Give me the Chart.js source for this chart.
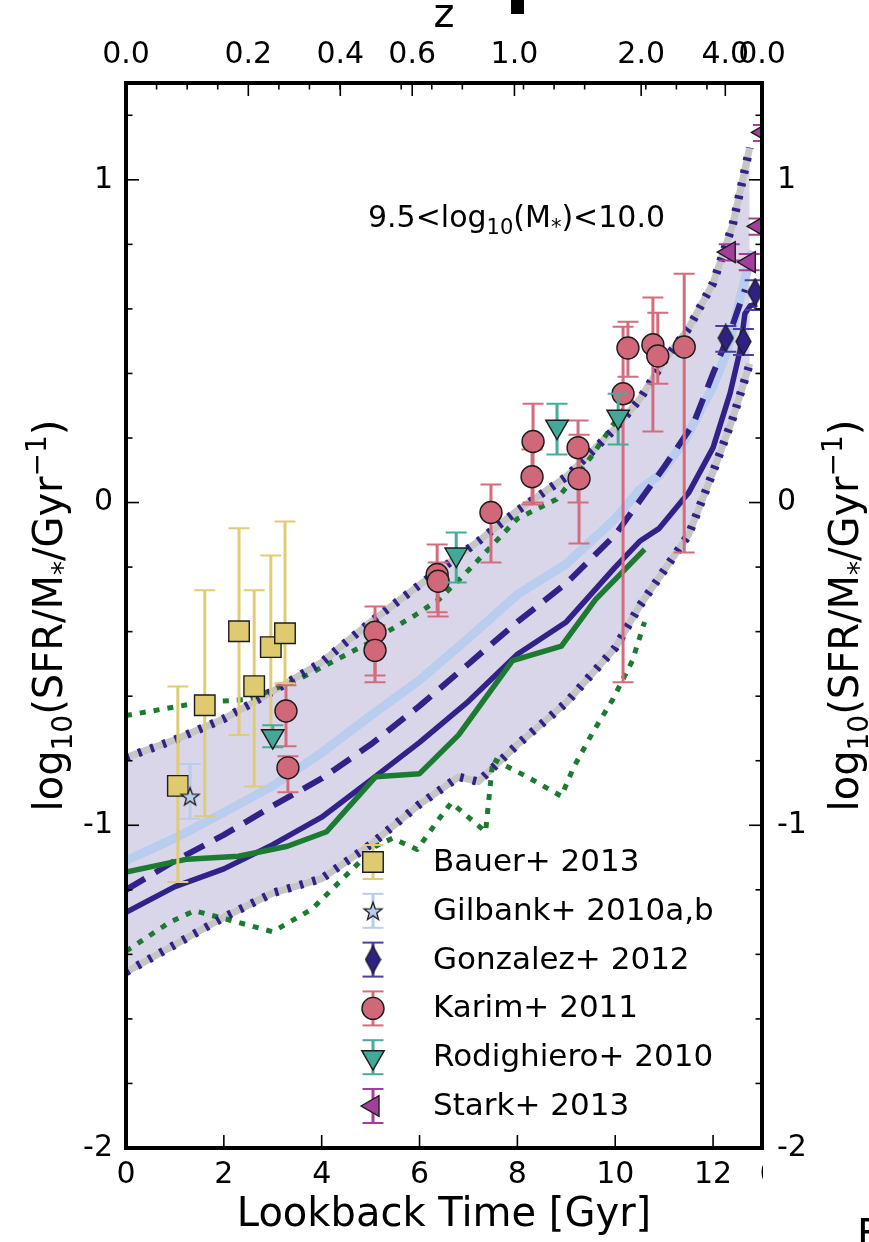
<!DOCTYPE html>
<html lang="en">
<head>
<meta charset="UTF-8" />
<title>sSFR vs lookback time</title>
<script src="https://cdn.jsdelivr.net/npm/chart.js@4"></script>
<style>
  body { margin: 0; background: #fff; }
  #wrap { width: 869px; height: 1242px; }
</style>
</head>
<body>
<div id="wrap"><canvas id="ssfr" width="869" height="1242"></canvas></div>
<script>
// ---- axes ----
const xMax = 13.0;
const yMin = -2, yMax = 1.3;
// redshift labels on the top axis and the lookback times (Gyr) where they sit
const zTickLabels = ['0.0', '0.2', '0.4', '0.6', '1.0', '2.0', '4.0', '0.0'];
const zTickTimes  = [0, 2.5, 4.38, 5.85, 7.94, 10.53, 12.25, 13.0];

// ---- model: 16-84 percentile band ----
const bandTime  = [0, 1, 2, 3, 4, 5, 6, 6.8, 7.2, 8, 9, 10, 10.5, 11, 11.5, 12, 12.4, 12.75];
const bandUpper = [-0.79, -0.735, -0.67, -0.585, -0.495, -0.37, -0.255, -0.165, -0.12, -0.025, 0.08, 0.23, 0.32, 0.44, 0.54, 0.68, 0.86, 1.1];
const bandLower = [-1.455, -1.37, -1.285, -1.21, -1.165, -1.06, -0.935, -0.85, -0.865, -0.75, -0.62, -0.45, -0.32, -0.21, -0.1, 0.095, 0.26, 0.43];

// ---- model: mean (light blue), median (dashed), main sequence (solid) ----
const meanTime   = [0, 1, 2, 3, 4, 5, 6, 7, 8, 9, 10, 10.5, 10.9, 11.4, 12, 12.3, 12.58, 12.8];
const meanValues = [-1.11, -1.04, -0.96, -0.878, -0.775, -0.66, -0.55, -0.42, -0.285, -0.19, -0.05, 0.04, 0.085, 0.186, 0.36, 0.474, 0.65, 0.78];
const dashTime   = [0, 1, 2, 3, 4, 5, 6, 7, 8, 9, 10, 11, 11.6, 12, 12.4, 12.65];
const dashValues = [-1.2, -1.11, -1.03, -0.94, -0.855, -0.75, -0.63, -0.5, -0.37, -0.25, -0.1, 0.11, 0.245, 0.4, 0.55, 0.66];
const solidTime   = [0, 1, 2, 3, 4, 5, 6, 7, 8, 9, 10, 10.5, 10.9, 11.5, 12, 12.35, 12.55, 12.65, 12.76, 12.9];
const solidValues = [-1.27, -1.19, -1.135, -1.06, -0.975, -0.86, -0.743, -0.616, -0.47, -0.37, -0.2, -0.12, -0.08, 0.03, 0.17, 0.34, 0.47, 0.585, 0.61, 0.615];

// ---- comparison model (green): median and percentiles ----
const greenTime   = [0, 1.25, 2.3, 3.3, 4.1, 5.1, 6.0, 6.8, 7.9, 8.9, 9.6, 10.6];
const greenValues = [-1.145, -1.105, -1.096, -1.065, -1.02, -0.85, -0.84, -0.72, -0.49, -0.445, -0.3, -0.145];
const greenHiTime   = [0, 1.5, 2.5, 3.5, 4.9, 5.9, 6.4, 7.0, 8.0, 8.8, 9.5, 10.4];
const greenHiValues = [-0.66, -0.62, -0.61, -0.55, -0.44, -0.35, -0.3, -0.21, -0.05, 0.01, 0.14, 0.34];
const greenLoTime   = [0, 0.5, 0.9, 1.4, 2.2, 3.0, 3.8, 4.6, 5.1, 5.45, 5.95, 6.4, 6.65, 7.35, 7.5, 8.2, 8.9, 9.15, 9.55, 9.95, 10.35, 10.6];
const greenLoValues = [-1.39, -1.34, -1.3, -1.265, -1.297, -1.33, -1.26, -1.14, -1.065, -1.04, -1.075, -0.98, -0.93, -1.02, -0.795, -0.85, -0.91, -0.82, -0.71, -0.61, -0.49, -0.37];

// ---- observations ----
const bauerTime  = [1.06, 1.61, 2.31, 2.62, 2.96, 3.25];
const bauerValue = [-0.878, -0.628, -0.399, -0.569, -0.448, -0.405];
const bauerHigh  = [-0.57, -0.272, -0.08, -0.272, -0.164, -0.059];
const bauerLow   = [-1.176, -0.972, -0.72, -0.88, -0.71, -0.56];

const gilbankTime  = [1.31];
const gilbankValue = [-0.91];
const gilbankHigh  = [-0.81];
const gilbankLow   = [-0.98];

const gonzalezTime  = [12.26, 12.62, 12.86];
const gonzalezValue = [0.51, 0.499, 0.652];
const gonzalezHigh  = [0.547, 0.538, 0.689];
const gonzalezLow   = [0.467, 0.457, 0.597];

const karimTime  = [3.27, 3.31, 5.09, 5.09, 6.36, 6.38, 7.46, 8.32, 8.30, 9.24, 9.26, 10.16, 10.26, 10.77, 10.87, 11.41];
const karimValue = [-0.646, -0.822, -0.402, -0.458, -0.223, -0.244, -0.031, 0.189, 0.08, 0.17, 0.074, 0.337, 0.479, 0.489, 0.454, 0.482];
const karimHigh  = [-0.566, -0.786, -0.322, -0.38, -0.13, -0.186, 0.056, 0.306, 0.164, 0.254, 0.21, 0.545, 0.56, 0.635, 0.588, 0.709];
const karimLow   = [-0.755, -0.898, -0.536, -0.557, -0.34, -0.353, -0.186, 0.0, -0.006, 0.0, -0.127, -0.557, 0.39, 0.22, 0.368, -0.155];

const rodTime  = [3.0, 6.75, 8.81, 10.06];
const rodValue = [-0.724, -0.161, 0.235, 0.266];
const rodHigh  = [-0.69, -0.093, 0.306, 0.337];
const rodLow   = [-0.758, -0.248, 0.149, 0.18];

const starkTime  = [12.33, 12.74, 12.94, 13.03];
const starkValue = [0.776, 0.745, 0.856, 1.147];
const starkHigh  = [0.80, 0.77, 0.88, 1.17];
const starkLow   = [0.75, 0.72, 0.83, 1.12];

// ---- colours ----
const navy = '#302289';
const green = '#1d7a31';
const skyBlue = '#b9cdee';
const lavender = '#d9d6e9';
const halo = '#c6c6c6';
const FONT = 'DejaVu Sans';

const pts = (xs, ys) => xs.map((x, i) => ({x, y: ys[i]}));

function lineSet(label, xs, ys, style) {
  return Object.assign({
    label, data: pts(xs, ys), showLine: true, pointRadius: 0,
    fill: false, clip: 0, tension: 0, borderCapStyle: 'butt', borderJoinStyle: 'round'
  }, style);
}

function markSet(label, xs, ys, hi, lo, style) {
  return Object.assign({
    label, data: pts(xs, ys), showLine: false, clip: 0,
    errHigh: hi, errLow: lo,
    pointBorderColor: '#1c1c1c', pointBorderWidth: 1.4
  }, style);
}

// small canvases for the star and thin-diamond markers
function markerCanvas(w, h, path, fill) {
  const c = document.createElement('canvas');
  c.width = w; c.height = h;
  const g = c.getContext('2d');
  g.beginPath();
  path(g, w, h);
  g.closePath();
  g.fillStyle = fill;
  g.fill();
  g.lineWidth = 1.3;
  g.strokeStyle = '#1c1c1c';
  g.stroke();
  return c;
}

const starImg = markerCanvas(22, 22, (g, w, h) => {
  const cx = w / 2, cy = h / 2 + 1, ro = 9.5, ri = 3.9;
  for (let i = 0; i < 10; i++) {
    const r = i % 2 ? ri : ro;
    const a = -Math.PI / 2 + i * Math.PI / 5;
    g.lineTo(cx + r * Math.cos(a), cy + r * Math.sin(a));
  }
}, skyBlue);

const diamondImg = markerCanvas(17, 29, (g, w, h) => {
  g.moveTo(w / 2, 1);
  g.lineTo(w - 1, h / 2);
  g.lineTo(w / 2, h - 1);
  g.lineTo(1, h / 2);
}, '#2f2184');

const datasets = [
  // shaded band
  lineSet('band upper', bandTime, bandUpper, {borderColor: 'transparent', backgroundColor: lavender, fill: '+1', order: 100}),
  lineSet('band lower', bandTime, bandLower, {borderColor: 'transparent', order: 100}),
  // grey underlay of the band edges
  lineSet('upper halo', bandTime, bandUpper, {borderColor: halo, borderWidth: 7, order: 90}),
  lineSet('lower halo', bandTime, bandLower, {borderColor: halo, borderWidth: 7, order: 90}),
  // green percentiles
  lineSet('green hi', greenHiTime, greenHiValues, {borderColor: green, borderWidth: 5, borderDash: [6, 8], order: 80}),
  lineSet('green lo', greenLoTime, greenLoValues, {borderColor: green, borderWidth: 5, borderDash: [6, 8], order: 80}),
  // band edges, dotted
  lineSet('upper edge', bandTime, bandUpper, {borderColor: navy, borderWidth: 8.5, borderDash: [3.5, 9.5], order: 70}),
  lineSet('lower edge', bandTime, bandLower, {borderColor: navy, borderWidth: 8.5, borderDash: [3.5, 9.5], order: 70}),
  lineSet('mean', meanTime, meanValues, {borderColor: skyBlue, borderWidth: 9, order: 60}),
  lineSet('median', dashTime, dashValues, {borderColor: navy, borderWidth: 6, borderDash: [22, 12], order: 50}),
  lineSet('main sequence', solidTime, solidValues, {borderColor: navy, borderWidth: 5.5, order: 40}),
  lineSet('green median', greenTime, greenValues, {borderColor: green, borderWidth: 5.5, order: 30}),
  // observations
  markSet('Bauer+ 2013', bauerTime, bauerValue, bauerHigh, bauerLow,
    {key: 'bauer', pointStyle: 'rect', pointRadius: 14.5, pointBackgroundColor: '#dfca6f', errColor: '#e0cc72', order: 10}),
  markSet('Gilbank+ 2010a,b', gilbankTime, gilbankValue, gilbankHigh, gilbankLow,
    {key: 'gilbank', pointStyle: starImg, pointRadius: 11, pointBackgroundColor: skyBlue, errColor: skyBlue, order: 9}),
  markSet('Gonzalez+ 2012', gonzalezTime, gonzalezValue, gonzalezHigh, gonzalezLow,
    {key: 'gonzalez', pointStyle: diamondImg, pointRadius: 14, pointBackgroundColor: '#2f2184', errColor: '#4a3fa0', order: 8}),
  markSet('Karim+ 2011', karimTime, karimValue, karimHigh, karimLow,
    {key: 'karim', pointStyle: 'circle', pointRadius: 11, pointBackgroundColor: '#d1687a', errColor: '#d46c7d', order: 7}),
  markSet('Rodighiero+ 2010', rodTime, rodValue, rodHigh, rodLow,
    {key: 'rod', pointStyle: 'triangle', pointRotation: 180, pointRadius: 13, pointBackgroundColor: '#43a898', errColor: '#45ac9b', order: 6}),
  markSet('Stark+ 2013', starkTime, starkValue, starkHigh, starkLow,
    {key: 'stark', pointStyle: 'triangle', pointRotation: -90, pointRadius: 12, pointBackgroundColor: '#a43e9d', errColor: '#a43e9d', order: 5})
];

// vertical error bars with caps, drawn just under each marker set
const errorBars = {
  id: 'errorBars',
  beforeDatasetDraw(chart, args) {
    const ds = chart.data.datasets[args.index];
    if (!ds.errHigh) return;
    const {ctx, chartArea: a} = chart;
    const xs = chart.scales.x, ys = chart.scales.y;
    ctx.save();
    ctx.beginPath();
    ctx.rect(a.left, a.top, a.right - a.left, a.bottom - a.top);
    ctx.clip();
    ctx.strokeStyle = ds.errColor;
    ds.data.forEach((p, i) => {
      const px = xs.getPixelForValue(p.x);
      const top = ys.getPixelForValue(ds.errHigh[i]);
      const bot = ys.getPixelForValue(ds.errLow[i]);
      ctx.lineWidth = 3;
      ctx.beginPath(); ctx.moveTo(px, top); ctx.lineTo(px, bot); ctx.stroke();
      ctx.lineWidth = 2;
      ctx.beginPath();
      ctx.moveTo(px - 10.5, top); ctx.lineTo(px + 10.5, top);
      ctx.moveTo(px - 10.5, bot); ctx.lineTo(px + 10.5, bot);
      ctx.stroke();
    });
    ctx.restore();
  }
};

function drawRich(ctx, parts, x, y, size, align) {
  // parts: [text, kind] with kind 0 normal, -1 subscript, 1 superscript
  const small = Math.round(size * 0.7);
  const fontOf = k => `${k ? small : size}px "${FONT}"`;
  let w = 0;
  parts.forEach(([t, k]) => { ctx.font = fontOf(k); w += ctx.measureText(t).width; });
  let cx = align === 'center' ? x - w / 2 : x;
  ctx.textAlign = 'left';
  ctx.textBaseline = 'alphabetic';
  parts.forEach(([t, k]) => {
    ctx.font = fontOf(k);
    const dy = k < 0 ? size * 0.24 : k > 0 ? -size * 0.4 : 0;
    ctx.fillText(t, cx, y + dy);
    cx += ctx.measureText(t).width;
  });
}

const yTitle = [['log', 0], ['10', -1], ['(SFR/M', 0], ['*', -1], ['/Gyr', 0], ['\u22121', 1], [')', 0]];
const massBin = [['9.5<log', 0], ['10', -1], ['(M', 0], ['*', -1], [')<10.0', 0]];

const legendRows = ['bauer', 'gilbank', 'gonzalez', 'karim', 'rod', 'stark'];

// frame, inward ticks, titles, legend
const decorations = {
  id: 'decorations',
  afterDraw(chart) {
    const {ctx, chartArea: a, scales} = chart;
    const xs = scales.x, ys = scales.y;
    ctx.save();
    ctx.strokeStyle = '#000';
    ctx.lineWidth = 1.6;
    const seg = (x1, y1, x2, y2) => { ctx.beginPath(); ctx.moveTo(x1, y1); ctx.lineTo(x2, y2); ctx.stroke(); };

    xs.ticks.forEach(t => { const px = xs.getPixelForValue(t.value); seg(px, a.bottom, px, a.bottom - 13); });

    zTickTimes.forEach(t => { const px = xs.getPixelForValue(t); seg(px, a.top, px, a.top + 13); });
    const minorStep = (zTickTimes[1] - zTickTimes[0]) / 4;
    for (let k = 1; k * minorStep < xMax; k++) {
      if (k % 4 === 0) continue;
      const px = xs.getPixelForValue(k * minorStep);
      seg(px, a.top, px, a.top + 6.5);
    }

    for (let v = -20; v <= 12; v += 2) {
      const py = ys.getPixelForValue(v / 10);
      const len = v % 10 === 0 ? 13 : 6.5;
      seg(a.left, py, a.left + len, py);
      seg(a.right, py, a.right - len, py);
    }

    ctx.lineWidth = 4;
    ctx.strokeRect(a.left, a.top, a.right - a.left, a.bottom - a.top);

    ctx.fillStyle = '#000';
    // top axis title
    ctx.font = `40px "${FONT}"`;
    ctx.textAlign = 'center';
    ctx.textBaseline = 'alphabetic';
    ctx.fillText('z', (a.left + a.right) / 2, 27);

    // y titles on both sides
    const midY = (a.top + a.bottom) / 2;
    [62, 858].forEach(bx => {
      ctx.save();
      ctx.translate(bx, midY);
      ctx.rotate(-Math.PI / 2);
      drawRich(ctx, yTitle, 0, 0, 40, 'center');
      ctx.restore();
    });

    drawRich(ctx, massBin, 368, 227, 30, 'left');

    // legend
    const byKey = {};
    chart.data.datasets.forEach(d => { if (d.key) byKey[d.key] = d; });
    legendRows.forEach((key, i) => {
      const d = byKey[key];
      const lx = 373, ly = 862 + i * 48.8;
      ctx.strokeStyle = d.errColor;
      ctx.lineWidth = 3;
      seg(lx, ly - 17, lx, ly + 17);
      ctx.lineWidth = 2;
      seg(lx - 10.5, ly - 17, lx + 10.5, ly - 17);
      seg(lx - 10.5, ly + 17, lx + 10.5, ly + 17);
      ctx.fillStyle = d.pointBackgroundColor;
      ctx.strokeStyle = d.pointBorderColor;
      ctx.lineWidth = d.pointBorderWidth;
      Chart.helpers.drawPoint(ctx, {
        pointStyle: d.pointStyle, radius: d.pointRadius,
        rotation: d.pointRotation || 0, borderWidth: d.pointBorderWidth
      }, lx, ly);
      ctx.fillStyle = '#000';
      ctx.font = `31px "${FONT}"`;
      ctx.textAlign = 'left';
      ctx.textBaseline = 'middle';
      ctx.fillText(d.label, 433, ly + 1);
    });

    // pieces of the neighbouring panel that show at the edges
    ctx.save();
    ctx.beginPath();
    ctx.rect(a.right - 10, a.bottom, 11, 60);
    ctx.clip();
    ctx.font = `30px "${FONT}"`;
    ctx.textAlign = 'center';
    ctx.textBaseline = 'middle';
    ctx.fillText('0', a.right + 7, 1175);
    ctx.restore();
    ctx.font = `40px "${FONT}"`;
    ctx.textAlign = 'left';
    ctx.textBaseline = 'alphabetic';
    ctx.fillText('F', 857, 1248);
    ctx.fillRect(511, 0, 13, 14);
    ctx.restore();
  }
};

const tickFont = {family: FONT, size: 30};

new Chart(document.getElementById('ssfr'), {
  type: 'line',
  data: {datasets},
  options: {
    responsive: false,
    animation: false,
    events: [],
    layout: {padding: 0},
    plugins: {legend: {display: false}, tooltip: {enabled: false}},
    scales: {
      x: {
        type: 'linear', position: 'bottom', min: 0, max: xMax,
        grid: {display: false, drawTicks: false},
        border: {display: false},
        ticks: {stepSize: 2, includeBounds: false, font: tickFont, color: '#000', padding: 9, maxRotation: 0, autoSkip: false},
        title: {display: true, text: 'Lookback Time [Gyr]', color: '#000', font: {family: FONT, size: 40}, padding: {top: 0, bottom: 2}},
        afterFit: s => { s.height = 94; }
      },
      xTop: {
        type: 'linear', position: 'top', min: 0, max: xMax,
        grid: {display: false, drawTicks: false},
        border: {display: false},
        afterBuildTicks: s => { s.ticks = zTickTimes.map(v => ({value: v})); },
        ticks: {font: tickFont, color: '#000', padding: 10, maxRotation: 0, autoSkip: false,
          callback: (v, i) => zTickLabels[i]},
        afterFit: s => { s.height = 83; }
      },
      y: {
        type: 'linear', position: 'left', min: yMin, max: yMax,
        grid: {display: false, drawTicks: false},
        border: {display: false},
        ticks: {stepSize: 1, includeBounds: false, font: tickFont, color: '#000', padding: 13},
        afterFit: s => { s.width = 126; }
      },
      yRight: {
        type: 'linear', position: 'right', min: yMin, max: yMax,
        grid: {display: false, drawTicks: false},
        border: {display: false},
        ticks: {stepSize: 1, includeBounds: false, font: tickFont, color: '#000', padding: 15},
        afterFit: s => { s.width = 107; }
      }
    }
  },
  plugins: [errorBars, decorations]
});
</script>
</body>
</html>
